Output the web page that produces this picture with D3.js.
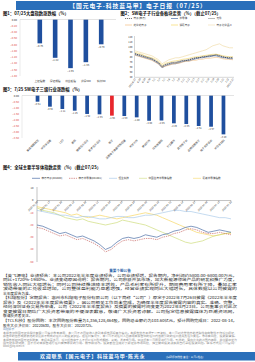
<!DOCTYPE html>
<html>
<head>
<meta charset="utf-8">
<style>
body{margin:0;background:#fff;}
svg{display:block;font-family:"Noto Sans CJK SC","Noto Sans",sans-serif;}
</style>
</head>
<body>
<svg id="page" width="255" height="362"></svg>
<script src="https://cdn.jsdelivr.net/npm/d3@7"></script>
<script>
var bannerTitle = "【国元电子-科技蓝马甲】电子日报（07/25）";
var footerTitle = "欢迎联系【国元电子】科技蓝马甲-陈光永";
var footerNote = "(扫码添加微信 备注：公司+姓名)";

var fig1Title = "图1：07/25大盘指数涨跌幅（%）";
var fig1Cats = ["上证指数", "深证成指", "创业板指", "沪深300", "科创50"];
var fig1Vals = [-0.76, -1.22, -1.55, -1.36, -0.79];
var fig1Ticks = [0, -0.2, -0.4, -0.6, -0.8, -1.0, -1.2, -1.4, -1.6, -1.8];

var fig2Title = "图2：SW电子子行业各板块走势（%）（截止07/25）";
var fig2Names = ["电子(申万)", "半导体", "元件", "光学光电子", "消费电子", "电子化学品Ⅱ"];
var fig2Dates = ["2022/6/27", "6/28", "6/29", "6/30", "7/1", "7/4", "7/5", "7/6", "7/7", "7/8", "7/11", "7/12", "7/13", "7/14", "7/15", "7/18", "7/19", "7/20", "7/21", "7/22", "2022/7/25"];
var fig2Ticks = [120, 110, 100, 90, 80, 70, 60, 50, 40];
var fig2Dz = [87, 85, 83, 81, 79, 77, 73, 69, 61, 65, 67, 69, 69, 71, 73, 73, 75, 77, 79, 79, 81, 81, 83, 83, 85, 83, 81, 79, 79, 79];
var fig2Bdt = [85, 83, 81, 79, 77, 75, 71, 67, 59, 63, 65, 67, 67, 69, 71, 73, 73, 75, 77, 79, 79, 81, 81, 83, 83, 81, 79, 79, 77, 77];
var fig2Yj = [88, 86, 85, 82, 80, 78, 74, 70, 63, 66, 69, 70, 71, 72, 74, 75, 76, 78, 79, 80, 82, 83, 84, 85, 86, 84, 82, 81, 80, 80];
var fig2Gx = [84, 82, 80, 78, 76, 74, 70, 66, 60, 62, 64, 66, 68, 68, 70, 72, 72, 74, 74, 76, 76, 78, 78, 79, 80, 79, 77, 76, 76, 75];
var fig2Xf = [90, 88, 86, 83, 81, 79, 76, 72, 64, 68, 70, 72, 73, 74, 76, 77, 78, 80, 81, 82, 83, 84, 85, 86, 86, 85, 83, 82, 81, 81];
var fig2Hxp = [93, 91, 89, 87, 85, 83, 79, 75, 67, 71, 75, 77, 79, 79, 81, 83, 85, 87, 89, 91, 93, 95, 99, 103, 105, 107, 103, 101, 99, 99];

var fig3Title = "图3：7/25 SW电子三级行业涨跌幅（%）";
var fig3Cats = ["集成电路封测", "半导体设备", "LED", "面板", "模拟芯片设计", "数字芯片设计", "电子", "消费电子零部件及组装", "光学元件", "被动元件", "印制电路板", "分立器件", "其他电子Ⅲ", "品牌消费电子", "电子化学品Ⅲ", "半导体材料"];
var fig3Vals = [-0.51, -0.92, -1.11, -1.25, -1.52, -1.55, -1.66, -1.69, -1.80, -2.08, -2.06, -2.29, -2.35, -2.51, -2.57, -3.20];
var fig3Ticks = [0, -0.5, -1.0, -1.5, -2.0, -2.5, -3.0, -3.5];
var fig3Mark = "电子";

var fig4Title = "图4：全球主要半导体指数走势（%）（截止07/25）";
var fig4Names = ["申万电子(801080)", "申万半导体(801081)", "恒生科技", "中国台湾半导体指数", "费城半导体指数"];
var fig4Dates = ["2022-01-04", "2022-01-17", "2022-01-28", "2022-02-15", "2022-02-28", "2022-03-11", "2022-03-24", "2022-04-07", "2022-04-20", "2022-05-05", "2022-05-18", "2022-05-31", "2022-06-14", "2022-06-27", "2022-07-08", "2022-07-19", "2022-07-25"];
var fig4Ticks = [10, 0, -10, -20, -30, -40, -50];
var fig4Dz = [-20, -21, -23, -25, -27, -26, -28, -30, -29, -31, -33, -36, -40, -38, -34, -31, -30, -31, -30, -28, -29, -30, -28, -27, -25, -24, -22, -21, -22, -24, -26, -25, -24, -25, -26];
var fig4Bdt = [-22, -23, -25, -27, -29, -28, -30, -32, -31, -33, -35, -38, -42, -40, -36, -33, -32, -33, -32, -31, -31, -32, -30, -29, -27, -26, -24, -23, -24, -26, -27, -27, -26, -27, -28];
var fig4Hs = [-8, -9, -10, -11, -12, -12, -13, -14, -13, -13, -14, -15, -15, -14, -13, -13, -14, -14, -13, -12, -12, -11, -10, -9, -8, -8, -9, -9, -10, -11, -12, -13, -14, -14, -15];
var fig4Tw = [-6, -8, -9, -10, -12, -14, -15, -16, -15, -17, -18, -19, -20, -19, -18, -16, -17, -18, -19, -20, -22, -24, -26, -28, -30, -32, -34, -35, -34, -33, -31, -29, -28, -27, -26];
var fig4Sox = [-5, -6, -7, -8, -9, -10, -12, -11, -13, -14, -13, -12, -13, -14, -15, -14, -13, -12, -11, -10, -11, -12, -14, -16, -18, -20, -22, -24, -26, -27, -28, -29, -28, -27, -27];

var noticeTitle = "重要个股公告";
var noticeParas = [
  ["【英飞源电】业绩预告：本公司2022年半年度业绩预告，公司业绩预增，报告期内，净利润约5800.00-6800.00万元，",
   "同比+1720%-1980%。业绩变动原因说明：报告期内，公司积极开拓市场，加大新能源领域产品的研发和推广力度，",
   "销售收入同比大幅增长；同时公司持续推进降本增效，产品毛利率有所提升，期间费用率有所下降，叠加汇率",
   "波动带来的汇兑收益增加，公司整体盈利能力显著增强，经营业绩实现同比大幅增长，具体数据以公司披露的",
   "半年度报告为准。"],
  ["【科翔股份】定期报告：惠州市科翔电子股份有限公司（以下简称“公司”）原定于2022年7月26日披露《2022年半年度",
   "报告》及《2022年半年度报告摘要》。因公司相关工作尚未完成，为确保半年度报告披露内容的真实、准确、完整，",
   "经向深圳证券交易所申请，公司《2022年半年度报告》及摘要的披露时间变更为2022年8月23日。公司董事会对此次",
   "变更披露日期给广大投资者带来的不便深表歉意，敬请广大投资者谅解。公司指定信息披露媒体为巨潮资讯网，",
   "敬请投资者关注。"],
  ["【TCL科技】股份回购：本次回购股份数量为1,356,128,464股，回购总金额约为103.60亿元，预计回购完成日：2022-08-14，",
   "股东大会决议日：20220630，股东大会日：20220725。"]
];
var riskTitle = "风险提示";
var disclaimer = [
  "本报告仅供国元证券股份有限公司客户参考使用，本公司不会因接收人收到本报告而视其为客户。本报告信息来源于公开资料，本公司对这些信息的准确性和完整性不作任何保证，",
  "报告中的信息或所表述的意见并不构成对任何人的投资建议。在任何情况下，本公司不对任何人因使用本报告中的任何内容所引致的任何损失负任何责任。市场有风险，投资需谨慎。",
  "本报告版权归国元证券所有，未经书面许可，任何机构和个人不得以任何形式翻版、复制、发表或引用。如征得本公司同意进行引用、刊发的，需在允许的范围内使用，并注明出处为",
  "国元证券研究所，且不得对本报告进行任何有悖原意的引用、删节和修改。投资者应当充分了解证券市场风险，独立做出投资决策并自行承担投资风险。联系方式见公司官网：",
  "www.gyzq.com.cn"
];

var svg = d3.select("#page");
var bannerBlue = "#2a6fba", barBlue = "#1f4f9e", barRed = "#e8262c", negRed = "#e04848";

function title(x, y, t) {
  svg.append("text").attr("x", x).attr("y", y).attr("font-size", 4.3).attr("font-weight", "bold").attr("fill", "#111").text(t);
}

// top banner
svg.append("rect").attr("x", 16).attr("y", 1).attr("width", 239).attr("height", 9).attr("fill", bannerBlue);
svg.append("text").attr("x", 138).attr("y", 7.9).attr("text-anchor", "middle").attr("fill", "#fff")
  .attr("font-size", 5.8).attr("font-weight", "bold").attr("letter-spacing", 0.9).text(bannerTitle);

// fig 1
title(3, 15, fig1Title);
var x1 = d3.scaleBand().domain(fig1Cats).range([26.75, 114.25]).padding(0.7);
var y1 = d3.scaleLinear().domain([0, -1.8]).range([19.5, 76]);
svg.append("line").attr("x1", 20).attr("x2", 20).attr("y1", y1(0)).attr("y2", y1(-1.8)).attr("stroke", "#ccc").attr("stroke-width", 0.4);
svg.selectAll(".t1").data(fig1Ticks).enter().append("text")
  .attr("x", 17).attr("y", function(d) { return y1(d) + 1; }).attr("text-anchor", "end").attr("font-size", 2.7)
  .attr("fill", function(d) { return d < 0 ? negRed : "#333"; }).text(d3.format(".2f"));
svg.selectAll(".b1").data(fig1Vals).enter().append("rect")
  .attr("x", function(d, i) { return x1(fig1Cats[i]); }).attr("y", y1(0))
  .attr("width", x1.bandwidth()).attr("height", function(d) { return y1(d) - y1(0); }).attr("fill", barBlue);
svg.selectAll(".v1").data(fig1Vals).enter().append("text")
  .attr("x", function(d, i) { return x1(fig1Cats[i]) + x1.bandwidth() / 2; }).attr("y", function(d) { return y1(d) + 3.6; })
  .attr("text-anchor", "middle").attr("font-size", 2.6).attr("fill", "#333").text(d3.format(".2f"));
svg.append("line").attr("x1", 20).attr("x2", 116).attr("y1", y1(0)).attr("y2", y1(0)).attr("stroke", "#bbb").attr("stroke-width", 0.4);
svg.selectAll(".c1").data(fig1Cats).enter().append("text")
  .attr("x", function(d) { return x1(d) + x1.bandwidth() / 2; }).attr("y", 81.5)
  .attr("text-anchor", "middle").attr("font-size", 2.7).attr("fill", "#333").text(function(d) { return d; });

// fig 2
title(120.5, 15, fig2Title);
var fig2Series = [fig2Dz, fig2Bdt, fig2Yj, fig2Gx, fig2Xf, fig2Hxp];
var fig2Colors = ["#222", "#2e5597", "#8c8c8c", "#f2b36b", "#f5d34f", "#f1dcab"];
var fig2Dash = ["1.2,0.8", null, null, null, null, null];
var fig2Width = [0.5, 0.6, 0.4, 0.5, 0.5, 0.7];
var x2 = d3.scaleLinear().domain([0, fig2Dz.length - 1]).range([135, 233]);
var xd2 = d3.scalePoint().domain(fig2Dates).range([135, 233]);
var y2 = d3.scaleLinear().domain([40, 120]).range([77.3, 37.3]);
var leg2 = [[125, 18.5], [171, 18.5], [208, 18.5], [125, 25], [171, 25], [208, 25]];
fig2Names.forEach(function(n, i) {
  var p = leg2[i];
  svg.append("line").attr("x1", p[0]).attr("x2", p[0] + 7).attr("y1", p[1]).attr("y2", p[1])
    .attr("stroke", fig2Colors[i]).attr("stroke-width", 0.6).attr("stroke-dasharray", fig2Dash[i]);
  svg.append("text").attr("x", p[0] + 8.5).attr("y", p[1] + 0.9).attr("font-size", 2.6).attr("fill", "#333").text(n);
});
svg.append("line").attr("x1", 134.5).attr("x2", 134.5).attr("y1", 36).attr("y2", 77.3).attr("stroke", "#999").attr("stroke-width", 0.4);
svg.append("line").attr("x1", 134.5).attr("x2", 234).attr("y1", 77.3).attr("y2", 77.3).attr("stroke", "#999").attr("stroke-width", 0.4);
svg.selectAll(".t2").data(fig2Ticks).enter().append("text")
  .attr("x", 132.5).attr("y", function(d) { return y2(d) + 0.9; }).attr("text-anchor", "end")
  .attr("font-size", 2.5).attr("fill", "#333").text(function(d) { return d; });
var line2 = d3.line().x(function(d, i) { return x2(i); }).y(function(d) { return y2(d); });
fig2Series.forEach(function(s, i) {
  svg.append("path").datum(s).attr("d", line2).attr("fill", "none").attr("stroke", fig2Colors[i])
    .attr("stroke-width", fig2Width[i]).attr("stroke-dasharray", fig2Dash[i]);
});
svg.append("path").datum(fig2Dz).attr("d", line2).attr("fill", "none").attr("stroke", fig2Colors[0])
  .attr("stroke-width", 0.5).attr("stroke-dasharray", "1.2,0.8");
svg.selectAll(".d2").data(fig2Dates).enter().append("text")
  .attr("transform", function(d) { return "translate(" + (xd2(d) + 1) + ",79) rotate(-55)"; })
  .attr("text-anchor", "end").attr("font-size", 2.3).attr("fill", "#333").text(function(d) { return d; });

// fig 3
title(3, 91, fig3Title);
var x3 = d3.scaleBand().domain(fig3Cats).range([27, 234]).padding(0.7);
var y3 = d3.scaleLinear().domain([0, -3.5]).range([95.5, 138]);
svg.append("line").attr("x1", 22).attr("x2", 22).attr("y1", y3(0)).attr("y2", y3(-3.5)).attr("stroke", "#ccc").attr("stroke-width", 0.4);
svg.selectAll(".t3").data(fig3Ticks).enter().append("text")
  .attr("x", 19).attr("y", function(d) { return y3(d) + 1; }).attr("text-anchor", "end").attr("font-size", 2.7)
  .attr("fill", function(d) { return d < 0 ? negRed : "#333"; }).text(d3.format(".2f"));
svg.selectAll(".b3").data(fig3Vals).enter().append("rect")
  .attr("x", function(d, i) { return x3(fig3Cats[i]); }).attr("y", y3(0))
  .attr("width", x3.bandwidth()).attr("height", function(d) { return y3(d) - y3(0); })
  .attr("fill", function(d, i) { return fig3Cats[i] === fig3Mark ? barRed : barBlue; });
svg.selectAll(".v3").data(fig3Vals).enter().append("text")
  .attr("x", function(d, i) { return x3(fig3Cats[i]) + x3.bandwidth() / 2; }).attr("y", function(d) { return y3(d) + 3.4; })
  .attr("text-anchor", "middle").attr("font-size", 2.4).attr("fill", "#333").text(d3.format(".2f"));
svg.append("line").attr("x1", 22).attr("x2", 234).attr("y1", y3(0)).attr("y2", y3(0)).attr("stroke", "#bbb").attr("stroke-width", 0.4);
svg.selectAll(".c3").data(fig3Cats).enter().append("text")
  .attr("transform", function(d) { return "translate(" + (x3(d) + x3.bandwidth() / 2 + 1.5) + ",140.5) rotate(-45)"; })
  .attr("text-anchor", "end").attr("font-size", 2.7).attr("fill", "#333").text(function(d) { return d; });

// fig 4
title(3, 169, fig4Title);
var fig4Series = [fig4Dz, fig4Bdt, fig4Hs, fig4Tw, fig4Sox];
var fig4Colors = ["#2e5597", "#c0504d", "#9dc3e6", "#cfdc7c", "#f7d766"];
var fig4Dash = [null, "1.4,0.9", null, null, null];
var fig4Width = [0.6, 0.6, 0.6, 0.7, 0.7];
var x4 = d3.scaleLinear().domain([0, fig4Dz.length - 1]).range([37, 231]);
var xd4 = d3.scalePoint().domain(fig4Dates).range([37, 231]);
var y4 = d3.scaleLinear().domain([-50, 10]).range([261.7, 188.3]);
var leg4 = [32, 69, 109, 139, 193];
fig4Names.forEach(function(n, i) {
  svg.append("line").attr("x1", leg4[i]).attr("x2", leg4[i] + 8).attr("y1", 178.3).attr("y2", 178.3)
    .attr("stroke", fig4Colors[i]).attr("stroke-width", 0.6).attr("stroke-dasharray", fig4Dash[i]);
  svg.append("text").attr("x", leg4[i] + 9.5).attr("y", 179.2).attr("font-size", 2.6).attr("fill", "#333").text(n);
});
svg.append("line").attr("x1", 37).attr("x2", 37).attr("y1", 187).attr("y2", 262).attr("stroke", "#666").attr("stroke-width", 0.4);
svg.selectAll(".t4").data(fig4Ticks).enter().append("text")
  .attr("x", 33.5).attr("y", function(d) { return y4(d) + 0.9; }).attr("text-anchor", "end").attr("font-size", 2.6)
  .attr("fill", function(d) { return d < 0 ? negRed : "#333"; }).text(function(d) { return d; });
var line4 = d3.line().x(function(d, i) { return x4(i); }).y(function(d) { return y4(d); });
[4, 3, 2, 1, 0].forEach(function(i) {
  svg.append("path").datum(fig4Series[i]).attr("d", line4).attr("fill", "none").attr("stroke", fig4Colors[i])
    .attr("stroke-width", fig4Width[i]).attr("stroke-dasharray", fig4Dash[i]);
});
svg.append("line").attr("x1", 37).attr("x2", 231).attr("y1", y4(0)).attr("y2", y4(0)).attr("stroke", "#666").attr("stroke-width", 0.4);
svg.selectAll(".k4").data(fig4Dates).enter().append("line")
  .attr("x1", function(d) { return xd4(d); }).attr("x2", function(d) { return xd4(d); })
  .attr("y1", y4(0)).attr("y2", y4(0) + 1).attr("stroke", "#666").attr("stroke-width", 0.4);
svg.selectAll(".d4").data(fig4Dates).enter().append("text")
  .attr("transform", function(d) { return "translate(" + (xd4(d) + 1) + "," + (y4(0) + 1.8) + ") rotate(-45)"; })
  .attr("text-anchor", "end").attr("font-size", 2.5).attr("fill", "#333").text(function(d) { return d; });

// notices
svg.append("text").attr("x", 120).attr("y", 271.5).attr("text-anchor", "middle").attr("font-size", 3.6)
  .attr("font-weight", "bold").attr("fill", "#2a5fa8").text(noticeTitle);
var ny = 276.5;
noticeParas.forEach(function(p) {
  p.forEach(function(l, j) {
    var t = svg.append("text").attr("x", 3).attr("y", ny).attr("font-size", 3.7).attr("fill", "#222").text(l);
    if (j < p.length - 1) t.attr("textLength", 234).attr("lengthAdjust", "spacingAndGlyphs");
    ny += 4.55;
  });
});
svg.append("text").attr("x", 3).attr("y", 330.3).attr("font-size", 2.8).attr("fill", "#5a7fb0").text(riskTitle);
disclaimer.forEach(function(l, j) {
  var t = svg.append("text").attr("x", 3).attr("y", 334 + j * 3.35).attr("font-size", 2.5).attr("fill", "#888").text(l);
  if (j < disclaimer.length - 1) t.attr("textLength", 234).attr("lengthAdjust", "spacingAndGlyphs");
});

// bottom banner
svg.append("rect").attr("x", 18).attr("y", 352).attr("width", 237).attr("height", 8.5).attr("fill", bannerBlue);
svg.append("text").attr("x", 40).attr("y", 358.3).attr("fill", "#fff").attr("font-size", 5)
  .attr("font-weight", "bold").attr("letter-spacing", 0.7).text(footerTitle);
svg.append("text").attr("x", 166).attr("y", 358).attr("fill", "#fff").attr("font-size", 2.6).text(footerNote);
</script>
</body>
</html>
